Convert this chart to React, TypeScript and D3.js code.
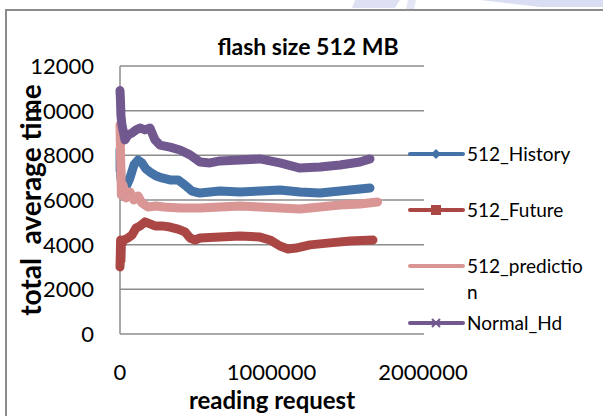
import React from 'react';
import * as d3 from 'd3';

const width = 603;
const height = 416;

const xTicks = [0, 1000000, 2000000];
const yTicks = [0, 2000, 4000, 6000, 8000, 10000, 12000];

// 512_History
const historyReq = [0, 1000, 2000, 3000, 6000, 13000, 40000, 66000, 92000, 119000, 145000, 172000, 198000, 238000, 277000, 330000, 383000, 429000, 475000, 528000, 660000, 792000, 924000, 1056000, 1188000, 1320000, 1452000, 1584000, 1650000];
const historyTime = [8240, 7300, 8000, 7570, 6990, 6670, 6580, 6990, 7570, 7790, 7660, 7390, 7250, 7080, 6990, 6900, 6900, 6670, 6400, 6310, 6400, 6360, 6400, 6450, 6360, 6310, 6400, 6490, 6540];

// 512_Future
const futureReq = [0, 2000, 4000, 6000, 9000, 26000, 53000, 79000, 106000, 132000, 165000, 198000, 231000, 277000, 330000, 383000, 429000, 462000, 495000, 528000, 660000, 792000, 924000, 990000, 1056000, 1109000, 1162000, 1254000, 1386000, 1518000, 1670000];
const futureTime = [3000, 3540, 4210, 3300, 3990, 4210, 4300, 4430, 4750, 4840, 5020, 4930, 4840, 4840, 4790, 4700, 4570, 4300, 4210, 4300, 4340, 4390, 4340, 4210, 3940, 3810, 3850, 3990, 4080, 4160, 4210];

// 512_prediction
const predictionReq = [0, 3000, 6000, 9000, 20000, 40000, 66000, 92000, 119000, 145000, 185000, 238000, 290000, 396000, 528000, 660000, 792000, 924000, 1056000, 1188000, 1320000, 1452000, 1584000, 1700000];
const predictionTime = [9360, 8240, 7340, 6220, 6670, 6090, 6360, 6000, 6180, 5870, 5690, 5730, 5690, 5640, 5640, 5690, 5730, 5690, 5640, 5600, 5690, 5780, 5820, 5910];

// Normal_Hd
const normalReq = [0, 3000, 6000, 13000, 33000, 53000, 79000, 106000, 132000, 165000, 198000, 231000, 264000, 330000, 396000, 462000, 528000, 594000, 660000, 792000, 924000, 1056000, 1188000, 1320000, 1452000, 1584000, 1650000];
const normalTime = [10900, 10480, 9800, 9360, 8690, 8910, 9000, 9140, 9220, 9140, 9220, 8690, 8460, 8370, 8240, 8020, 7700, 7660, 7750, 7790, 7840, 7660, 7430, 7480, 7570, 7700, 7840];

const seriesNames = ['512_History', '512_Future', '512_predictio', 'Normal_Hd'];
const seriesColors = ['#4572A7', '#AA4643', '#D99694', '#71588F'];
const seriesMarkers = ['diamond', 'square', 'none', 'cross'];

const series = [
  { req: historyReq, time: historyTime },
  { req: futureReq, time: futureTime },
  { req: predictionReq, time: predictionTime },
  { req: normalReq, time: normalTime },
];

const plot = { left: 120, right: 423, top: 66, bottom: 334 };
const font = 'Lato, "Open Sans", sans-serif';

const App = () => {
  const x = d3.scaleLinear().domain([0, 2000000]).range([plot.left, plot.right]);
  const y = d3.scaleLinear().domain([0, 12000]).range([plot.bottom, plot.top]);

  const line = d3.line<[number, number]>()
    .x(d => x(d[0]))
    .y(d => y(d[1]));

  const legendY = [154, 210, 266, 323];

  const marker = (kind: string, cx: number, cy: number, color: string) => {
    if (kind === 'diamond') {
      return <path d={`M${cx},${cy - 5}L${cx + 5},${cy}L${cx},${cy + 5}L${cx - 5},${cy}Z`} fill={color} />;
    }
    if (kind === 'square') {
      return <rect x={cx - 5} y={cy - 5} width={10} height={10} fill={color} />;
    }
    if (kind === 'cross') {
      return <path d={`M${cx - 4},${cy - 4}L${cx + 4},${cy + 4}M${cx - 4},${cy + 4}L${cx + 4},${cy - 4}`} stroke={color} strokeWidth={2} />;
    }
    return null;
  };

  return (
    <svg width={width} height={height} style={{ position: 'absolute', left: 0, top: 0, background: '#fff' }}>
      {/* faint watermark at top */}
      <path d="M355,0L400,0L395,8L352,8Z" fill="#dde1f3" />
      <path d="M408,0L416,0L414,9L406,9Z" fill="#e3e6f5" />
      <path d="M480,0L603,0L603,7L540,7Z" fill="#d9def2" />

      {/* chart frame */}
      <path d="M6,416V10H603" fill="none" stroke="#8c8c8c" strokeWidth={2} />

      {/* gridlines */}
      {yTicks.map(t => (
        <line key={t} x1={plot.left} x2={424} y1={y(t)} y2={y(t)} stroke="#8c8c8c" strokeWidth={1.5} />
      ))}
      <line x1={plot.left} x2={plot.left} y1={plot.top} y2={plot.bottom} stroke="#8c8c8c" strokeWidth={1.5} />

      {/* y tick labels */}
      {yTicks.map(t => (
        <text key={t} x={94} y={y(t)} dy="0.36em" textAnchor="end" fontFamily={font} fontSize={22} fill="#000">{t}</text>
      ))}
      {/* x tick labels */}
      {xTicks.map(t => (
        <text key={t} x={x(t)} y={380} textAnchor="middle" fontFamily={font} fontSize={22} fill="#000">{t}</text>
      ))}

      {/* series */}
      {series.map((s, i) => (
        <path
          key={i}
          d={line(s.req.map((r, j) => [r, s.time[j]] as [number, number])) || ''}
          fill="none"
          stroke={seriesColors[i]}
          strokeWidth={9}
          strokeLinejoin="round"
          strokeLinecap="round"
        />
      ))}

      {/* title */}
      <text x={308} y={55} textAnchor="middle" fontFamily={font} fontWeight="bold" fontSize={23} fill="#000">flash size 512 MB</text>

      {/* axis titles */}
      <text x={272} y={409} textAnchor="middle" fontFamily={font} fontWeight="bold" fontSize={24} fill="#000">reading request</text>
      <text transform="translate(41,200) rotate(-90)" textAnchor="middle" fontFamily={font} fontWeight="bold" fontSize={28} fill="#000" style={{ whiteSpace: 'pre' }}>{'total  average time'}</text>

      {/* legend */}
      {seriesNames.map((name, i) => (
        <g key={name}>
          <line x1={410} x2={463} y1={legendY[i]} y2={legendY[i]} stroke={seriesColors[i]} strokeWidth={4} strokeLinecap="round" />
          {marker(seriesMarkers[i], 436, legendY[i], seriesColors[i])}
          <text x={467} y={legendY[i]} dy="0.36em" fontFamily={font} fontSize={19} fill="#000">{name}</text>
        </g>
      ))}
      <text x={467} y={292} dy="0.36em" fontFamily={font} fontSize={19} fill="#000">n</text>
    </svg>
  );
};

export default App;
